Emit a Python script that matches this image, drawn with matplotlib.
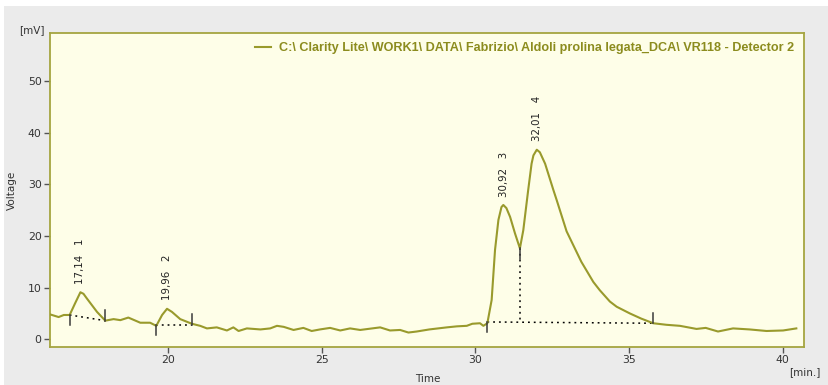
import matplotlib
matplotlib.use("Agg")
import matplotlib.pyplot as plt
from matplotlib.patches import Rectangle

# ---- data ----
time_min = [16.16, 16.43, 16.6, 16.79, 16.97, 17.14, 17.24, 17.35, 17.68, 17.95,
            18.22, 18.44, 18.7, 19.09, 19.41, 19.61, 19.8, 19.96, 20.12, 20.39,
            20.77, 21.04, 21.26, 21.58, 21.91, 22.12, 22.29, 22.56, 23.0, 23.32,
            23.54, 23.76, 24.08, 24.4, 24.67, 24.94, 25.27, 25.6, 25.92, 26.25,
            26.9, 27.22, 27.55, 27.82, 28.09, 28.5, 29.07, 29.4, 29.72, 29.9,
            30.15, 30.26, 30.39, 30.53, 30.64, 30.75, 30.85, 30.91, 31.01, 31.13,
            31.29, 31.45, 31.56, 31.72, 31.83, 31.89, 32.0, 32.1, 32.27, 32.54,
            32.65, 32.97, 33.45, 33.84, 34.05, 34.38, 34.6, 35.03, 35.4, 35.79,
            36.22, 36.66, 37.2, 37.5, 37.9, 38.39, 38.93, 39.48, 40.02, 40.45]
voltage_mv = [4.8, 4.3, 4.7, 4.7, 7.0, 9.1, 8.8, 7.9, 5.3, 3.6,
              3.9, 3.7, 4.2, 3.2, 3.2, 2.6, 4.7, 5.9, 5.3, 3.9,
              3.0, 2.6, 2.1, 2.3, 1.7, 2.3, 1.6, 2.1, 1.9, 2.1,
              2.6, 2.4, 1.8, 2.2, 1.6, 1.9, 2.2, 1.7, 2.1, 1.8,
              2.3, 1.7, 1.8, 1.3, 1.5, 1.9, 2.3, 2.5, 2.6, 3.0,
              3.1, 2.6, 3.1, 7.6, 17.3, 23.1, 25.6, 26.0, 25.4, 23.7,
              20.5, 17.6, 21.1, 28.9, 34.0, 35.6, 36.7, 36.2, 34.0, 28.9,
              26.9, 20.9, 15.0, 11.1, 9.5, 7.3, 6.3, 5.0, 4.0, 3.1,
              2.8, 2.6, 2.0, 2.2, 1.5, 2.1, 1.9, 1.6, 1.7, 2.1]

peak_numbers = [1, 2, 3, 4]
peak_times = [17.14, 19.96, 30.92, 32.01]
peak_heights = [9.1, 5.9, 26.0, 36.7]
peak_labels = ["17,14", "19,96", "30,92", "32,01"]

# baselines: (start time, start value, end time, end value)
base_start_t = [16.79, 19.61, 30.39]
base_start_v = [4.7, 2.8, 3.35]
base_end_t = [17.95, 20.77, 35.79]
base_end_v = [3.6, 2.8, 3.1]
valley_t = 31.45
valley_v = 17.6
valley_base_v = 3.3

legend_label = "C:\\ Clarity Lite\\ WORK1\\ DATA\\ Fabrizio\\ Aldoli prolina legata_DCA\\ VR118 - Detector 2"

# ---- styling ----
W, H = 829, 385
trace_col = "#999a2c"
spine_col = "#a5a540"
face_col = "#fefee8"
gray_bg = "#ebebeb"
mark_col = "#3a3a3a"

fig = plt.figure(figsize=(W / 100, H / 100), dpi=100, facecolor="white")
fig.patches.append(Rectangle((4 / W, 0), 1 - 4 / W, 1 - 6 / H, transform=fig.transFigure,
                             facecolor=gray_bg, edgecolor="none", zorder=-10))

ax = fig.add_axes([50 / W, 1 - 347 / H, (804 - 50) / W, (347 - 33) / H])
ax.set_facecolor(face_col)
for s in ax.spines.values():
    s.set_color(spine_col)
    s.set_linewidth(1.3)

ax.plot(time_min, voltage_mv, color=trace_col, lw=1.5, label=legend_label, zorder=3)

dot_style = dict(color="black", lw=1.1, linestyle=(0, (1.2, 2.6)), zorder=2)
tick_len = 2.0
for i in range(len(base_start_t)):
    ax.plot([base_start_t[i], base_end_t[i]], [base_start_v[i], base_end_v[i]], **dot_style)
    ax.plot([base_start_t[i], base_start_t[i]], [base_start_v[i], base_start_v[i] - tick_len],
            color=mark_col, lw=1.1, zorder=4)
    ax.plot([base_end_t[i], base_end_t[i]], [base_end_v[i], base_end_v[i] + tick_len],
            color=mark_col, lw=1.1, zorder=4)
ax.plot([valley_t, valley_t], [valley_v, valley_base_v], **dot_style)
ax.plot([valley_t, valley_t], [valley_v, valley_v - tick_len], color=mark_col, lw=1.1, zorder=4)

for n, t, h, lab in zip(peak_numbers, peak_times, peak_heights, peak_labels):
    ax.annotate(f"{lab}   {n}", xy=(t, h), xytext=(0, 6), textcoords="offset points",
                rotation=90, ha="center", va="bottom", fontsize=7.4, color="#222222",
                family="DejaVu Sans")

ax.set_xlim(16.15, 40.7)
ax.set_ylim(-1.5, 59.3)
ax.set_xticks([20, 25, 30, 35, 40])
ax.set_yticks([0, 10, 20, 30, 40, 50])
ax.tick_params(axis="both", direction="out", length=4, width=1, color="#555555",
               labelsize=7.8, labelcolor="#333333", pad=2)

leg = ax.legend(loc="center right", bbox_to_anchor=(794 / W, 1 - 48 / H),
                bbox_transform=fig.transFigure, frameon=False, borderpad=0,
                borderaxespad=0, handlelength=1.3, handletextpad=0.6,
                prop={"family": "Liberation Sans", "weight": "bold", "size": 9.1},
                labelcolor="#8c8c1e")

fig.text(32 / W, 1 - 30 / H, "[mV]", ha="center", va="center", fontsize=7.5, color="#333333")
fig.text(12 / W, 1 - 190 / H, "Voltage", ha="center", va="center", rotation=90,
         fontsize=7.5, color="#333333")
fig.text(428 / W, 1 - 379 / H, "Time", ha="center", va="center", fontsize=7.5, color="#333333")
fig.text(805 / W, 1 - 372 / H, "[min.]", ha="center", va="center", fontsize=7.5, color="#333333")

fig.savefig("out.png", dpi=100, facecolor=fig.get_facecolor())
